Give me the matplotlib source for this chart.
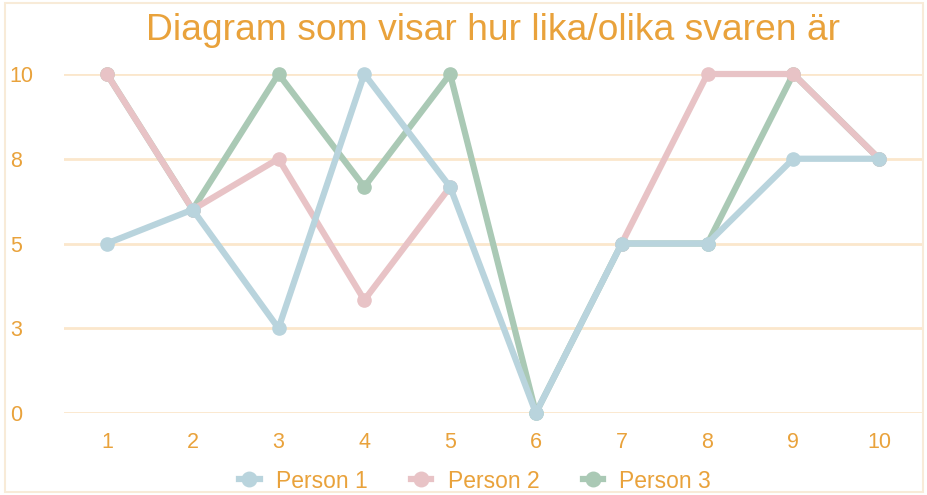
import matplotlib.pyplot as plt
from matplotlib.patches import Rectangle
import numpy as np

# data
categories = [1, 2, 3, 4, 5, 6, 7, 8, 9, 10]
person1 = [5, 6, 2.5, 10, 6.67, 0, 5, 5, 7.5, 7.5]
person2 = [10, 6, 7.5, 3.33, 6.67, np.nan, 5, 10, 10, 7.5]
person3 = [10, 6, 10, 6.67, 10, 0, 5, 5, 10, 7.5]
y_ticks = [0, 2.5, 5, 7.5, 10]
y_labels = ["0", "3", "5", "8", "10"]

orange = "#E9A23B"
grid_col = "#FBE7CC"
colors = ["#B9D4DD", "#E8C3C6", "#AAC9B5"]

plt.rcParams['font.family'] = ['Liberation Sans', 'DejaVu Sans']

fig = plt.figure(figsize=(9.28, 4.95), dpi=100)
ax = fig.add_axes([64 / 928, 1 - 413 / 495, 858 / 928, 339 / 495])

series = [("Person 1", person1), ("Person 2", person2), ("Person 3", person3)]
for i, (name, vals) in enumerate(series):
    ax.plot(categories, vals, color=colors[i], linewidth=4.5, marker="o",
            markersize=9.5, label=name, zorder=10 - i)

ax.set_xlim(0.5, 10.5)
ax.set_ylim(0, 10)
ax.set_yticks(y_ticks)
ax.set_yticklabels(y_labels)
ax.set_xticks(categories)
ax.grid(axis="y", color=grid_col, linewidth=2)
ax.set_axisbelow(True)
for s in ax.spines.values():
    s.set_visible(False)
ax.tick_params(axis="both", length=0, labelsize=15.5, labelcolor=orange)
ax.tick_params(axis="x", pad=14)
ax.tick_params(axis="y", pad=39)
for lbl in ax.get_yticklabels():
    lbl.set_horizontalalignment("left")
for line in ax.get_lines():
    line.set_clip_on(False)

fig.text(0.531, 1 - 30 / 495, "Diagram som visar hur lika/olika svaren är",
         ha="center", va="center", color=orange, fontsize=26.8)

# legend below the plot
fig.legend(*ax.get_legend_handles_labels(), loc="center",
           bbox_to_anchor=((64 + 0.479 * 858) / 928, 1 - 481 / 495), ncol=3,
           frameon=False, fontsize=16.5, labelcolor=orange, handlelength=0.9,
           handletextpad=0.7, columnspacing=1.9, markerscale=1.1)

# light frame round the whole chart
fig.patches.append(Rectangle((5 / 928, 3 / 495), 918 / 928, 489 / 495,
                             transform=fig.transFigure, fill=False,
                             edgecolor="#F8EBD8", linewidth=1.5))

fig.savefig("out.png", dpi=100)
